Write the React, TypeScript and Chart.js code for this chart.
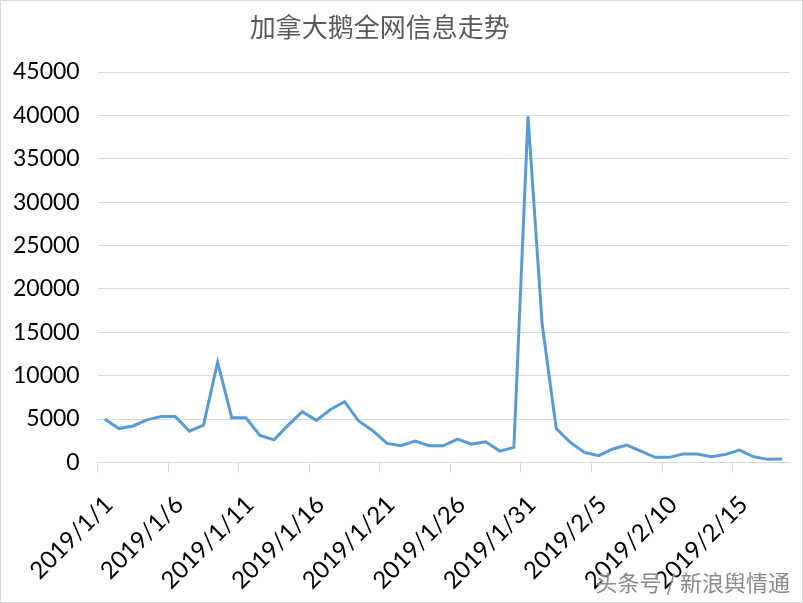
import React, { useEffect, useRef } from "react";
import { Chart, registerables } from "chart.js";

Chart.register(...registerables);

const TITLE = "加拿大鹅全网信息走势";
const WATERMARK = "头条号 / 新浪舆情通";

const dates = [
  "2019/1/1", "2019/1/2", "2019/1/3", "2019/1/4", "2019/1/5", "2019/1/6", "2019/1/7",
  "2019/1/8", "2019/1/9", "2019/1/10", "2019/1/11", "2019/1/12", "2019/1/13", "2019/1/14",
  "2019/1/15", "2019/1/16", "2019/1/17", "2019/1/18", "2019/1/19", "2019/1/20", "2019/1/21",
  "2019/1/22", "2019/1/23", "2019/1/24", "2019/1/25", "2019/1/26", "2019/1/27", "2019/1/28",
  "2019/1/29", "2019/1/30", "2019/1/31", "2019/2/1", "2019/2/2", "2019/2/3", "2019/2/4",
  "2019/2/5", "2019/2/6", "2019/2/7", "2019/2/8", "2019/2/9", "2019/2/10", "2019/2/11",
  "2019/2/12", "2019/2/13", "2019/2/14", "2019/2/15", "2019/2/16", "2019/2/17", "2019/2/18",
];

const values = [
  5000, 3900, 4200, 4900, 5300, 5300, 3600,
  4300, 11550, 5150, 5150, 3100, 2600, 4300,
  5850, 4850, 6100, 7000, 4770, 3650, 2190,
  1920, 2460, 1920, 1920, 2690, 2110, 2380,
  1300, 1730, 39900, 16000, 3900, 2310, 1150,
  770, 1540, 2000, 1300, 580, 580, 960,
  960, 650, 920, 1420, 650, 350, 380,
];

const Y_MIN = 0;
const Y_MAX = 45000;
const Y_STEP = 5000;
const LABEL_EVERY = 5;
const Y_TICK_PAD = 18;
const X_TICK_PAD = 18;

export default function App() {
  const ref = useRef<HTMLCanvasElement>(null);

  useEffect(() => {
    if (!ref.current) return;
    const overlay = {
      id: "overlayText",
      afterDraw(chart: any) {
        const { ctx, width, height } = chart;
        ctx.save();
        ctx.font = '26px "Noto Sans CJK SC"';
        ctx.fillStyle = "#595959";
        ctx.textAlign = "center";
        ctx.textBaseline = "top";
        ctx.fillText(TITLE, width * 0.473, 13);

        ctx.font = '22px "Noto Sans CJK SC"';
        ctx.textAlign = "right";
        ctx.textBaseline = "alphabetic";
        ctx.shadowColor = "rgba(255,255,255,0.95)";
        ctx.shadowBlur = 2;
        ctx.shadowOffsetX = 1;
        ctx.shadowOffsetY = 1;
        ctx.fillStyle = "#8a8a8a";
        ctx.fillText(WATERMARK, width - 12, height - 11);
        ctx.restore();
      },
    };

    const chart = new Chart(ref.current, {
      type: "line",
      data: {
        labels: dates,
        datasets: [
          {
            data: values,
            borderColor: "#5b9bd5",
            backgroundColor: "#5b9bd5",
            borderWidth: 3,
            pointRadius: 0,
            tension: 0,
            fill: false,
          },
        ],
      },
      options: {
        animation: false,
        responsive: false,
        maintainAspectRatio: false,
        layout: { padding: { top: 71, left: 12, right: 13, bottom: 7 } },
        plugins: {
          legend: { display: false },
          title: { display: false },
          tooltip: { enabled: false },
        },
        scales: {
          x: {
            offset: true,
            border: { display: true, color: "#d9d9d9", width: 1 },
            grid: {
              offset: true,
              drawOnChartArea: false,
              drawTicks: true,
              tickLength: 10,
              color: (c: any) => (c.index % LABEL_EVERY === 0 ? "#d9d9d9" : "rgba(0,0,0,0)"),
            },
            ticks: {
              autoSkip: false,
              maxRotation: 45,
              minRotation: 45,
              color: "#000000",
              padding: X_TICK_PAD,
              labelOffset: 4,
              font: { family: "Lato", size: 24 },
              callback: (_v: any, i: number) => (i % LABEL_EVERY === 0 ? dates[i] : ""),
            },
            afterFit: (scale: any) => {
              scale.paddingLeft = 0;
              scale.paddingRight = 0;
              scale.height = scale.height - X_TICK_PAD;
            },
          },
          y: {
            min: Y_MIN,
            max: Y_MAX,
            border: { display: false },
            grid: { color: "#d9d9d9", drawTicks: false, lineWidth: 1 },
            ticks: {
              stepSize: Y_STEP,
              color: "#000000",
              padding: Y_TICK_PAD,
              font: { family: "Lato", size: 23 },
              callback: (v: any) => String(v),
            },
            afterFit: (scale: any) => {
              scale.width = scale.width - Y_TICK_PAD;
            },
          },
        },
      },
      plugins: [overlay],
    });
    return () => chart.destroy();
  }, []);

  return (
    <div
      style={{
        position: "absolute",
        left: 0,
        top: 0,
        width: 803,
        height: 603,
        boxSizing: "border-box",
        border: "1px solid #d9d9d9",
        background: "#ffffff",
      }}
    >
      <canvas ref={ref} width={801} height={601} style={{ display: "block" }} />
    </div>
  );
}
